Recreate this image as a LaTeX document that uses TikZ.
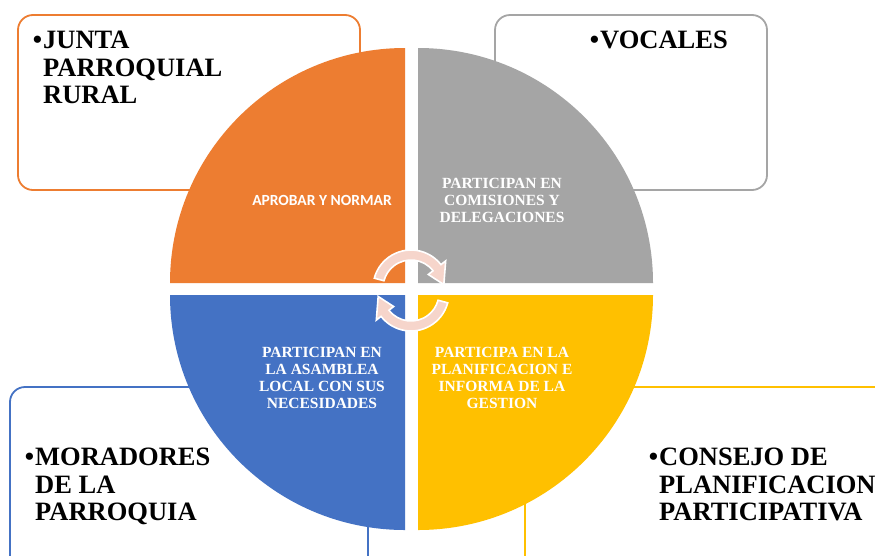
\documentclass[tikz,border=0pt]{standalone}
\usepackage{fontspec}
\setmainfont{Liberation Serif}
\newfontfamily\calibfont{Carlito}
\usetikzlibrary{calc}
\definecolor{qorange}{HTML}{ED7D31}
\definecolor{qgray}{HTML}{A5A5A5}
\definecolor{qblue}{HTML}{4472C4}
\definecolor{qyellow}{HTML}{FFC000}
\definecolor{arrowpink}{RGB}{246,213,203}
\begin{document}
\begin{tikzpicture}[x=1pt,y=-1pt,
  framebox/.style={draw=#1, line width=1.8pt, rounded corners=15pt, fill=white},
  bigtext/.style={font=\bfseries\fontsize{26.5}{27.5}\selectfont, align=left, anchor=north west, inner sep=0pt},
  quadtext/.style={font=\bfseries\fontsize{15.5}{17}\selectfont, text=white, align=center, inner sep=0pt},
  cyclearrow/.style={fill=arrowpink, draw=white, line width=1.6pt, line join=miter}]
\useasboundingbox (0,0) rectangle (875,555);
\clip (0,0) rectangle (875,555);
\fill[white] (0,0) rectangle (875,555);
% frames
\draw[framebox=qorange] (18,15) rectangle (360,190);
\draw[framebox=qgray] (495,15) rectangle (767,190);
\draw[framebox=qblue] (10,387) rectangle (368,575);
\draw[framebox=qyellow] (525,387) rectangle (895,575);
% quadrants
\fill[qorange] (405,283) -- (170,283) arc[start angle=180, end angle=90, radius=235pt] -- cycle;
\fill[qgray] (418,283) -- (418,48) arc[start angle=90, end angle=0, radius=235pt] -- cycle;
\fill[qyellow] (418,295) -- (653,295) arc[start angle=0, end angle=-90, radius=235pt] -- cycle;
\fill[qblue] (405,295) -- (405,530) arc[start angle=-90, end angle=-180, radius=235pt] -- cycle;
% corner texts
\node[bigtext] (junta) at (43,31) {\llap{•\kern1pt}JUNTA\\PARROQUIAL\\RURAL};
\node[bigtext] (vocales) at (600,31) {\llap{•\kern1pt}VOCALES};
\node[bigtext] (moradores) at (35,448) {\llap{•\kern1pt}MORADORES\\DE LA\\PARROQUIA};
\node[bigtext] (consejo) at (659,448) {\llap{•\kern1pt}CONSEJO DE\\PLANIFICACION\\PARTICIPATIVA};
% quadrant texts
\node[quadtext, font=\calibfont\bfseries\fontsize{15.5}{17}\selectfont] (aprobar) at (322,200) {APROBAR Y NORMAR};
\node[quadtext] (comisiones) at (502,200) {PARTICIPAN EN\\COMISIONES Y\\DELEGACIONES};
\node[quadtext] (asamblea) at (322,378) {PARTICIPAN EN\\LA ASAMBLEA\\LOCAL CON SUS\\NECESIDADES};
\node[quadtext] (planif) at (502,378) {PARTICIPA EN LA\\PLANIFICACION E\\INFORMA DE LA\\GESTION};
% central circular arrows
\coordinate (ca) at (411,288);
\coordinate (cb) at (411,293);
\draw[cyclearrow] ($(ca)+(165:38pt)$) arc[start angle=165, end angle=38, radius=38pt]
  -- ($(ca)+(38:44pt)$) -- ($(ca)+(6:33pt)$) -- ($(ca)+(38:22pt)$)
  -- ($(ca)+(38:28pt)$) arc[start angle=38, end angle=165, radius=28pt] -- cycle;
\draw[cyclearrow] ($(cb)+(-15:38pt)$) arc[start angle=-15, end angle=-142, radius=38pt]
  -- ($(cb)+(-142:44pt)$) -- ($(cb)+(-174:33pt)$) -- ($(cb)+(-142:22pt)$)
  -- ($(cb)+(-142:28pt)$) arc[start angle=-142, end angle=-15, radius=28pt] -- cycle;
\end{tikzpicture}
\end{document}
